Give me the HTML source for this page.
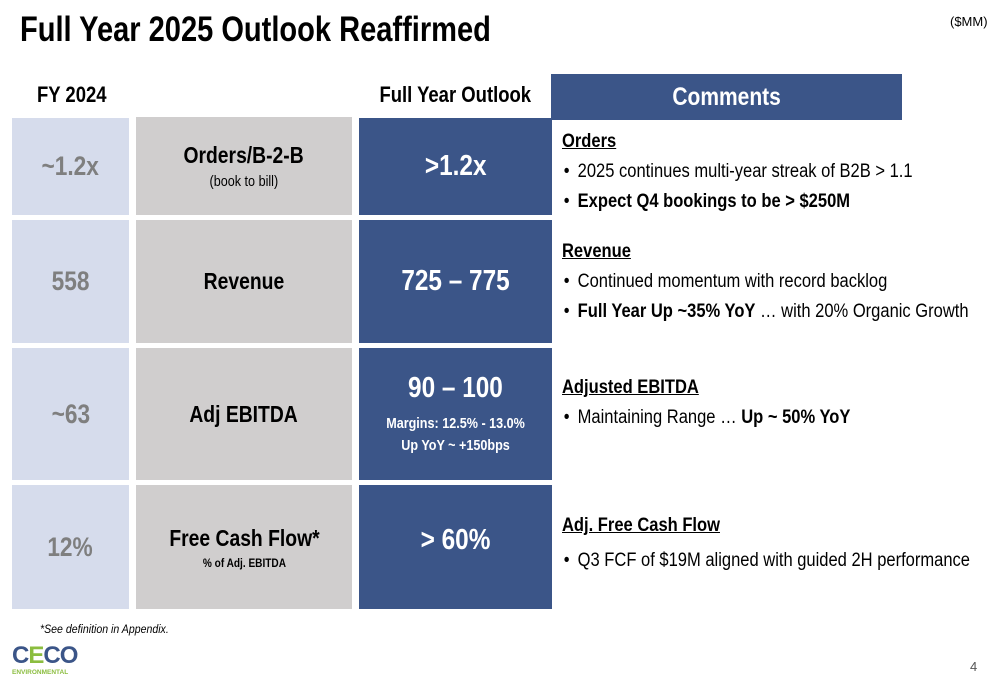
<!DOCTYPE html>
<html><head><meta charset="utf-8"><style>
body{margin:0;width:1000px;height:685px;background:#fff;position:relative;overflow:hidden;font-family:"Liberation Sans",sans-serif;}
div{position:absolute;box-sizing:border-box;}
.n{display:inline-block;transform:scaleX(.84);white-space:nowrap;}
.c{display:flex;flex-direction:column;align-items:center;justify-content:center;text-align:center;}
.lb{background:#d6dcec;color:#7f7f7f;font-weight:bold;font-size:27px;left:12px;width:117px;}
.gr{background:#d0cece;color:#000;font-weight:bold;font-size:23px;left:136px;width:216px;}
.bl{background:#3b5588;color:#fff;font-weight:bold;font-size:29px;left:359px;width:193px;}
.cm{left:562px;width:500px;font-size:19px;color:#000;line-height:30px;white-space:nowrap;transform:scaleX(.87);transform-origin:left top;}
.cm u{font-weight:bold;}
.bu{display:inline-block;width:16px;font-weight:normal;padding-left:2px;}
</style></head><body>
<div style="left:20px;top:10px;font-size:35px;font-weight:bold;white-space:nowrap;transform:scaleX(.83);transform-origin:left top;">Full Year 2025 Outlook Reaffirmed</div>
<div style="left:950px;top:14px;font-size:13px;">($MM)</div>
<div style="left:37px;top:82px;font-size:22px;font-weight:bold;transform:scaleX(.84);transform-origin:left top;white-space:nowrap;">FY 2024</div>
<div style="left:359px;width:193px;top:82px;font-size:22px;font-weight:bold;text-align:center;"><span class="n">Full Year Outlook</span></div>
<div class="c" style="left:551px;top:74px;width:351px;height:46px;background:#3b5588;color:#fff;font-size:25px;font-weight:bold;"><span class="n">Comments</span></div>

<div class="c lb" style="top:118px;height:97px;"><span class="n">~1.2x</span></div>
<div class="c lb" style="top:220px;height:123px;"><span class="n">558</span></div>
<div class="c lb" style="top:348px;height:132px;"><span class="n">~63</span></div>
<div class="c lb" style="top:485px;height:124px;"><span class="n">12%</span></div>

<div class="c gr" style="top:117px;height:98px;"><span class="n">Orders/B-2-B</span><span class="n" style="font-weight:normal;font-size:15px;margin-top:4px;">(book to bill)</span></div>
<div class="c gr" style="top:220px;height:123px;"><span class="n">Revenue</span></div>
<div class="c gr" style="top:348px;height:132px;"><span class="n">Adj EBITDA</span></div>
<div class="c gr" style="top:485px;height:124px;"><span class="n">Free Cash Flow*</span><span class="n" style="font-size:12px;margin-top:4px;">% of Adj. EBITDA</span></div>

<div class="c bl" style="top:118px;height:97px;"><span class="n">&gt;1.2x</span></div>
<div class="c bl" style="top:220px;height:123px;"><span class="n">725 – 775</span></div>
<div class="c bl" style="top:348px;height:132px;"><span class="n">90 – 100</span><span class="n" style="font-size:15px;margin-top:8px;line-height:22px;">Margins: 12.5% - 13.0%<br>Up YoY ~ +150bps</span></div>
<div class="c bl" style="top:485px;height:124px;padding-bottom:14px;"><span class="n">&gt; 60%</span></div>

<div class="cm" style="top:127px;"><u>Orders</u><br><span class="bu">•</span>2025 continues multi-year streak of B2B &gt; 1.1<br><span class="bu">•</span><b>Expect Q4 bookings to be &gt; $250M</b></div>
<div class="cm" style="top:237px;"><u>Revenue</u><br><span class="bu">•</span>Continued momentum with record backlog<br><span class="bu">•</span><b>Full Year Up ~35% YoY</b> … with 20% Organic Growth</div>
<div class="cm" style="top:373px;"><u>Adjusted EBITDA</u><br><span class="bu">•</span>Maintaining Range … <b>Up ~ 50% YoY</b></div>
<div class="cm" style="top:511px;"><u>Adj. Free Cash Flow</u><br><span style="line-height:40px;"><span class="bu">•</span>Q3 FCF of $19M aligned with guided 2H performance</span></div>

<div style="left:40px;top:622px;font-size:12px;font-style:italic;transform:scaleX(.88);transform-origin:left top;white-space:nowrap;">*See definition in Appendix.</div>
<div style="left:12px;top:644px;font-weight:bold;font-size:24px;line-height:24px;letter-spacing:-1px;color:#3b5588;">C<span style="color:#8bbd3f;">E</span>CO</div>
<div style="left:12px;top:669px;font-weight:bold;font-size:6.5px;color:#8bbd3f;">ENVIRONMENTAL</div>
<div style="left:970px;top:659px;font-size:13px;color:#555;">4</div>
</body></html>
